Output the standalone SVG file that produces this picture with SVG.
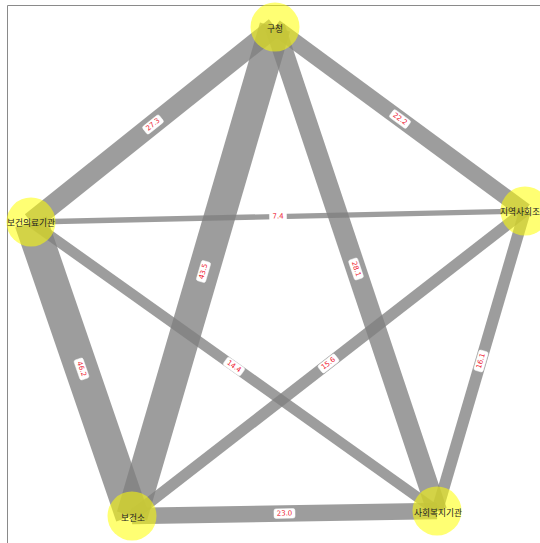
<svg xmlns="http://www.w3.org/2000/svg" width="540" height="543" viewBox="0 0 540 543">
<style>
.e{stroke:#808080;stroke-opacity:0.77;stroke-linecap:butt;fill:none}
.n{fill:#ffff00;fill-opacity:0.55;stroke:none}
.t{font-family:"Noto Sans CJK KR","Noto Sans",sans-serif;font-size:8.7px;fill:#222;text-anchor:middle;dominant-baseline:central}
.lb rect{fill:#fff;stroke:#fff;stroke-width:0.5}
.lb text{font-family:"DejaVu Sans",sans-serif;font-size:7px;fill:#ee2233;text-anchor:middle;dominant-baseline:central}
</style>
<rect width="540" height="543" fill="#fff"/>
<path d="M7.5,543 V5.5 H540" fill="none" stroke="#8a8a8a" stroke-width="1"/>
<g id="edges">
<line class="e" x1="31" y1="222" x2="275" y2="27" stroke-width="19.7"/>
<line class="e" x1="275" y1="27" x2="525" y2="211" stroke-width="16"/>
<line class="e" x1="132" y1="516" x2="275" y2="27" stroke-width="31.3"/>
<line class="e" x1="275" y1="27" x2="437" y2="511" stroke-width="20.2"/>
<line class="e" x1="31" y1="222" x2="525" y2="211" stroke-width="5.3"/>
<line class="e" x1="31" y1="222" x2="132" y2="516" stroke-width="33.3"/>
<line class="e" x1="31" y1="222" x2="437" y2="511" stroke-width="10.4"/>
<line class="e" x1="132" y1="516" x2="525" y2="211" stroke-width="11.2"/>
<line class="e" x1="437" y1="511" x2="525" y2="211" stroke-width="11.6"/>
<line class="e" x1="132" y1="516" x2="437" y2="511" stroke-width="16.6"/>
</g>
<g id="edge-labels">
<g class="lb" transform="translate(153,124.5) rotate(-38.6)"><rect x="-10.5" y="-4.75" width="21" height="9.5" rx="2"/><text>27.3</text></g>
<g class="lb" transform="translate(400,119) rotate(36.35)"><rect x="-10.5" y="-4.75" width="21" height="9.5" rx="2"/><text>22.2</text></g>
<g class="lb" transform="translate(203.5,271.5) rotate(-73.7)"><rect x="-10.5" y="-4.75" width="21" height="9.5" rx="2"/><text>43.5</text></g>
<g class="lb" transform="translate(356,269) rotate(71.5)"><rect x="-10.5" y="-4.75" width="21" height="9.5" rx="2"/><text>28.1</text></g>
<g class="lb" transform="translate(278,216.5) rotate(-1.28)"><rect x="-8.5" y="-4.75" width="17" height="9.5" rx="2"/><text>7.4</text></g>
<g class="lb" transform="translate(81.5,369) rotate(71)"><rect x="-10.5" y="-4.75" width="21" height="9.5" rx="2"/><text>46.2</text></g>
<g class="lb" transform="translate(234,366.5) rotate(35.45)"><rect x="-10.5" y="-4.75" width="21" height="9.5" rx="2"/><text>14.4</text></g>
<g class="lb" transform="translate(328.5,363.5) rotate(-37.8)"><rect x="-10.5" y="-4.75" width="21" height="9.5" rx="2"/><text>15.6</text></g>
<g class="lb" transform="translate(481,361) rotate(-73.65)"><rect x="-10.5" y="-4.75" width="21" height="9.5" rx="2"/><text>16.1</text></g>
<g class="lb" transform="translate(284.5,513.5) rotate(-0.94)"><rect x="-10.5" y="-4.75" width="21" height="9.5" rx="2"/><text>23.0</text></g>
</g>
<g id="node-gucheong"><circle class="n" cx="275" cy="27" r="24.5"/><text class="t" x="275" y="28">구청</text></g>
<g id="node-hospital"><circle class="n" cx="31" cy="222" r="24.5"/><text class="t" x="31" y="222">보건의료기관</text></g>
<g id="node-community"><circle class="n" cx="525" cy="211" r="24.5"/><text class="t" x="500" y="211" style="text-anchor:start">지역사회조</text></g>
<g id="node-health-center"><circle class="n" cx="132" cy="516" r="24.5"/><text class="t" x="133" y="517">보건소</text></g>
<g id="node-welfare"><circle class="n" cx="437" cy="511" r="24.5"/><text class="t" x="438" y="512">사회복지기관</text></g>
</svg>
